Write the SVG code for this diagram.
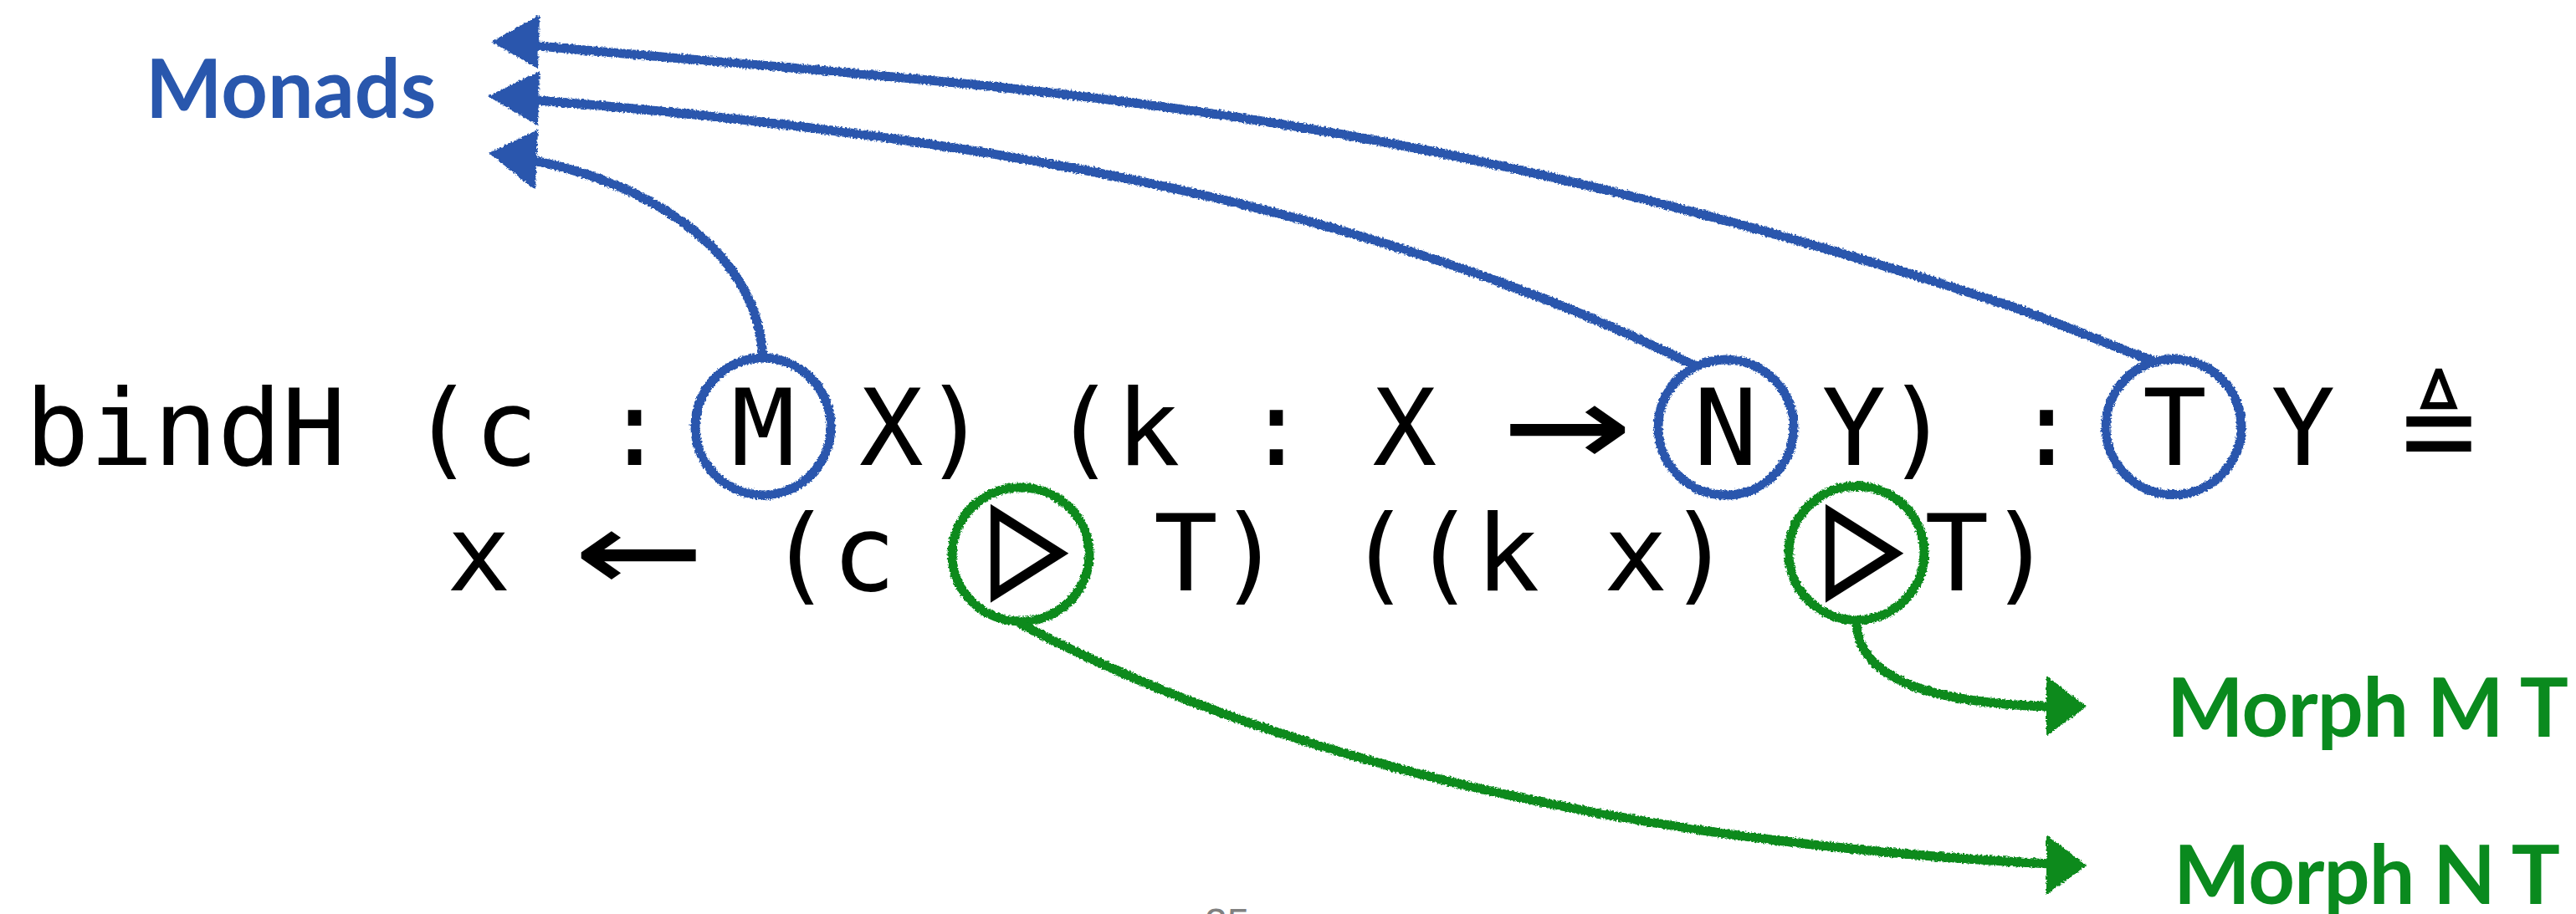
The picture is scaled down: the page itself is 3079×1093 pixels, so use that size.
<svg xmlns="http://www.w3.org/2000/svg" width="3079" height="1093" viewBox="0 0 3079 1093">
<style>
.code{font-family:"DejaVu Sans Mono","Liberation Mono",monospace;font-size:127.4px;fill:#000}
.tri{font-family:"DejaVu Sans Mono","DejaVu Sans",monospace;font-size:190px;fill:#000;stroke:#000;stroke-width:3}
.lbl{font-family:Lato,"Open Sans",sans-serif;font-weight:700;font-size:97px}
.bl{fill:#2957ad}
.gr{fill:#0a8a1e}
.bs{stroke:#2957ad;fill:none;stroke-width:11;stroke-linecap:round}
.gs{stroke:#0a8a1e;fill:none;stroke-width:11;stroke-linecap:round}
.pg{font-family:"Liberation Sans",Arial,sans-serif;font-size:48px;fill:#808080}
</style>
<defs>
<filter id="rough" x="-10%" y="-10%" width="120%" height="120%">
<feTurbulence type="fractalNoise" baseFrequency="0.4" numOctaves="2" seed="3" result="n"/>
<feDisplacementMap in="SourceGraphic" in2="n" scale="5" xChannelSelector="R" yChannelSelector="G"/>
</filter>
</defs>
<g id="code">
<g id="line1">
<text class="code" x="30" y="555.5">bindH (c : M X) (k : X</text>
<text class="code" text-anchor="middle" transform="translate(1873.5,563) scale(2,1.4)">→</text>
<text class="code" x="2024.2" y="555.5">N Y) : T Y</text>
<text class="code" text-anchor="middle" x="2915" y="566" style="font-size:150px">≜</text>
</g>
<g id="line2">
<text class="code" x="534" y="706">x</text>
<text class="code" text-anchor="middle" transform="translate(763,713) scale(2,1.4)">←</text>
<text class="code" x="917.5" y="706">(c</text>
<text class="tri" text-anchor="middle" transform="translate(1230,710.5) scale(0.79,1)">▷</text>
<text class="code" x="1379" y="706">T)</text>
<text class="code" x="1610" y="706">((k x)</text>
<text class="tri" text-anchor="middle" transform="translate(2228,710.5) scale(0.79,1)">▷</text>
<text class="code" x="2300.6" y="706">T)</text>
</g>
</g>
<g id="circle-M" filter="url(#rough)"><ellipse class="bs" cx="912" cy="510" rx="81" ry="82"/></g>
<g id="circle-N" filter="url(#rough)"><ellipse class="bs" cx="2063" cy="511" rx="81" ry="81"/></g>
<g id="circle-T" filter="url(#rough)"><ellipse class="bs" cx="2598" cy="510.5" rx="81" ry="81"/></g>
<g id="circle-tri1" filter="url(#rough)"><ellipse class="gs" cx="1220" cy="663" rx="82" ry="80"/></g>
<g id="circle-tri2" filter="url(#rough)"><ellipse class="gs" cx="2219" cy="661.5" rx="81" ry="80"/></g>
<g id="monads"><text class="lbl bl" x="174" y="141">Monads</text></g>
<g id="morph-mt"><text class="lbl gr" x="2590" y="881" textLength="480">Morph M T</text></g>
<g id="morph-nt"><text class="lbl gr" x="2598" y="1081" textLength="462">Morph N T</text></g>
<g id="connectors" filter="url(#rough)">
<path class="bs" d="M 2570,430 C 2513,410 2457,384 2400,365 C 2133,277 1867,207 1600,160 C 1267,101 960,84 643,55"/>
<path class="bs" d="M 2025,437 C 1675,262 1243,168 643,120"/>
<path class="bs" d="M 912,428 C 905,300 780,222 643,193"/>
<polygon class="bl" points="587,50 645,18 643,82"/>
<polygon class="bl" points="583,115 645,85 643,150"/>
<polygon class="bl" points="584,183 643,155 640,227"/>
<path class="gs" d="M 1220,746 C 1500,895 1900,1005 2450,1033"/>
<path class="gs" d="M 2219,745 C 2222,810 2300,840 2450,845"/>
<polygon class="gr" points="2494,1035 2446,998 2446,1070"/>
<polygon class="gr" points="2494,845 2446,808 2446,880"/>
</g>
<text class="pg" x="1440" y="1120">25</text>
</svg>
